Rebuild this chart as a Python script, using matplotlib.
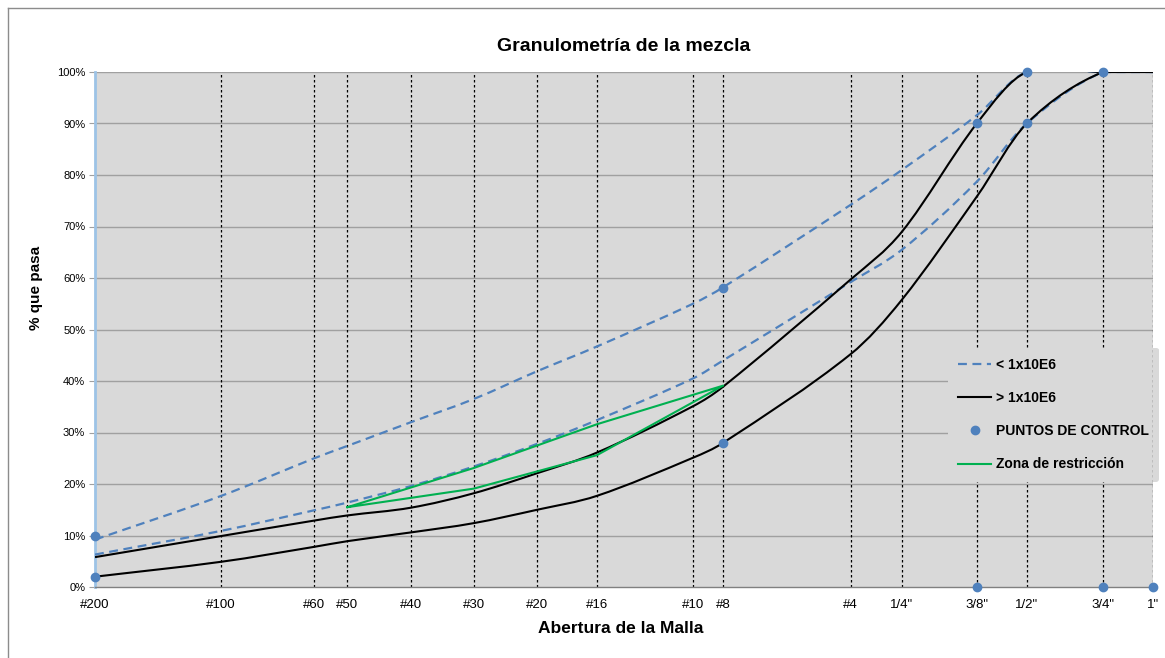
import numpy as np
import matplotlib
matplotlib.use('Agg')
import matplotlib.pyplot as plt
from matplotlib.lines import Line2D
from matplotlib.path import Path
from matplotlib.patches import PathPatch
from matplotlib.ticker import NullLocator

plt.rcParams['font.family'] = ['Liberation Sans', 'DejaVu Sans']

# tamices y aberturas (mm)
sieves = ['#200', '#100', '#60', '#50', '#40', '#30', '#20', '#16', '#10', '#8',
          '#4', '1/4"', '3/8"', '1/2"', '3/4"', '1"']
opening = [0.075, 0.15, 0.25, 0.3, 0.425, 0.6, 0.85, 1.18, 2.0, 2.36,
           4.75, 6.3, 9.5, 12.5, 19.0, 25.0]

# limites < 1x10E6 (discontinuas)
low_traffic_up = [9.2, 17.7, 25.0, 27.4, 32.0, 36.5, 41.9, 46.7, 55.0, 58.2,
                  74.2, 81.0, 91.6, 100, 100, 100]
low_traffic_lo = [6.3, 10.9, 14.9, 16.4, 19.6, 23.4, 27.8, 32.4, 40.5, 44.0,
                  59.2, 65.5, 78.7, 90, 100, 100]
# limites > 1x10E6 (continuas)
high_traffic_up = [5.8, 9.9, 12.9, 13.9, 15.4, 18.2, 22.1, 26.1, 35.1, 38.9,
                   59.7, 69.0, 90, 100, 100, 100]
high_traffic_lo = [2.0, 4.9, 7.8, 8.9, 10.6, 12.4, 15.0, 17.7, 25.1, 28.0,
                   45.2, 55.8, 75.8, 90, 100, 100]

# puntos de control
ctrl_x = [0.075, 0.075, 2.36, 2.36, 9.5, 9.5, 12.5, 12.5, 19.0, 19.0, 25.0]
ctrl_y = [2, 10, 28, 58, 90, 0, 100, 90, 100, 0, 0]

# zona de restriccion
zone_x = [0.3, 0.6, 1.18, 2.36, 1.18, 0.6, 0.3]
zone_y = [15.5, 19.1, 25.6, 39.1, 31.6, 23.1, 15.5]

yticks = [0, 10, 20, 30, 40, 50, 60, 70, 80, 90, 100]


def smooth_line(ax, xs, ys, **kw):
    # linea suavizada (hermite cubico en escala log, dibujado como bezier)
    lx, y = np.log10(xs), np.asarray(ys, float)
    n = len(lx)
    m = np.empty(n)
    m[0] = (y[1] - y[0]) / (lx[1] - lx[0])
    m[-1] = (y[-1] - y[-2]) / (lx[-1] - lx[-2])
    for i in range(1, n - 1):
        m[i] = (y[i + 1] - y[i - 1]) / (lx[i + 1] - lx[i - 1])
    verts, codes = [(xs[0], ys[0])], [Path.MOVETO]
    for i in range(n - 1):
        h = lx[i + 1] - lx[i]
        c1 = (lx[i] + h / 3, y[i] + m[i] * h / 3)
        c2 = (lx[i + 1] - h / 3, y[i + 1] - m[i + 1] * h / 3)
        verts += [(10 ** c1[0], c1[1]), (10 ** c2[0], c2[1]), (xs[i + 1], ys[i + 1])]
        codes += [Path.CURVE4] * 3
    ax.add_patch(PathPatch(Path(verts, codes), fill=False, **kw))


fig = plt.figure(figsize=(11.65, 6.58), dpi=100)
ax = fig.add_axes([95/1165, 1-587/658, 1058/1165, 515/658])
ax.set_facecolor('#D9D9D9')

ax.set_xscale('log')
ax.set_xlim(opening[0], opening[-1])
ax.set_ylim(0, 100)

# rejilla
for v in yticks[1:]:
    ax.axhline(v, color='#A0A0A0', lw=1, zorder=1)
for o in opening[1:-1]:
    ax.axvline(o, color='black', lw=0.9, ls=(0, (2, 2)), zorder=1)
ax.axvline(opening[-1], color='black', lw=0.9, ls=(0, (2, 2)), zorder=8)

blue = '#4F81BD'
dash = (0, (4, 2.5))
smooth_line(ax, opening, low_traffic_up, ec=blue, lw=1.6, ls=dash, zorder=3)
smooth_line(ax, opening, low_traffic_lo, ec=blue, lw=1.6, ls=dash, zorder=3)
smooth_line(ax, opening, high_traffic_up, ec='black', lw=1.5, zorder=4)
smooth_line(ax, opening, high_traffic_lo, ec='black', lw=1.5, zorder=4)
ax.plot(ctrl_x, ctrl_y, 'o', color=blue, ms=6, clip_on=False, zorder=9)
ax.plot(zone_x, zone_y, color='#00B050', lw=1.5, zorder=5)

ax.set_xticks(opening)
ax.set_xticklabels(sieves)
ax.xaxis.set_minor_locator(NullLocator())
ax.set_yticks(yticks)
ax.set_yticklabels(['%d%%' % v for v in yticks])
ax.tick_params(axis='x', length=0, labelsize=9.5, pad=9)
ax.tick_params(axis='y', length=4, color='#A0A0A0', labelsize=8, pad=3)

for s in ['top', 'right']:
    ax.spines[s].set_visible(False)
ax.spines['left'].set_color('#9DC3E6')
ax.spines['left'].set_linewidth(2)
ax.spines['bottom'].set_color('#808080')
ax.spines['bottom'].set_linewidth(1)

handles = [
    Line2D([], [], color=blue, lw=1.6, ls=dash),
    Line2D([], [], color='black', lw=1.5),
    Line2D([], [], color=blue, marker='o', ms=6, ls='none'),
    Line2D([], [], color='#00B050', lw=1.5),
]
labels = ['< 1x10E6', '> 1x10E6', 'PUNTOS DE CONTROL', 'Zona de restricción']
leg = ax.legend(handles, labels, loc='upper left', bbox_to_anchor=(0.806, 0.465),
                frameon=True, facecolor='#D9D9D9', edgecolor='none', framealpha=1,
                prop={'weight': 'bold', 'size': 10},
                handlelength=2.4, handletextpad=0.3, labelspacing=1.38,
                borderpad=0.75, borderaxespad=0)
leg.set_zorder(7)

ax.set_title('Granulometría de la mezcla', fontsize=14, fontweight='bold', pad=15)
ax.set_xlabel('Abertura de la Malla', fontsize=12.5, fontweight='bold')
ax.set_ylabel('% que pasa', fontsize=11, fontweight='bold')
ax.xaxis.set_label_coords(0.497, -0.066)
ax.yaxis.set_label_coords(-0.049, 0.58)

# marco exterior del grafico
fig.add_artist(Line2D([8/1165, 8/1165], [0, 1-8/658], color='#8C8C8C', lw=1))
fig.add_artist(Line2D([8/1165, 1], [1-8/658, 1-8/658], color='#8C8C8C', lw=1))

fig.savefig('out.png', dpi=100)
